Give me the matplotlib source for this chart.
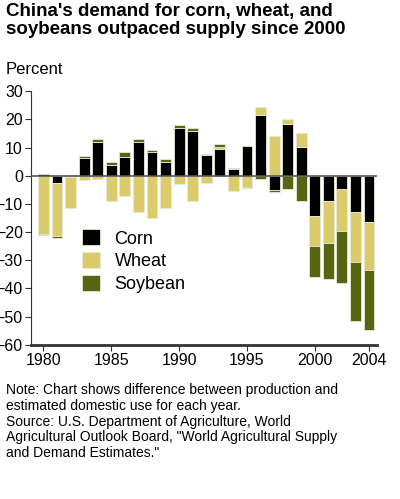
import numpy as np
import matplotlib.pyplot as plt

plt.rcParams['font.family'] = ['Liberation Sans', 'DejaVu Sans']

years = list(range(1980, 2005))
corn = [0.8, -2.5, -0.5, 6.5, 12, 4, 6.8, 12, 8.3, 4.8, 16.9, 15.8, 7.5, 9.6,
        2.5, 10.5, 21.5, -5.2, 18.5, 10.4, -14.1, -8.9, -4.6, -12.9, -16.4]
wheat = [-20.5, -19, -11, -1.5, -1, -9, -7, -13, -15, -11.5, -3, -9, -2.5, 0.7,
         -5.5, -4, 3, 14.2, 1.8, 4.9, -10.7, -14.9, -14.9, -17.8, -16.9]
soybean = [-0.4, -0.5, 0.3, 0.7, 1, 1, 1.7, 1.2, 1, 1, 1.3, 1, 0.3, 1.1,
           0.3, -0.5, -1, -0.7, -4.6, -8.8, -11.2, -12.9, -18.6, -21, -21.5]

series = [("Corn", corn, "#000000"), ("Wheat", wheat, "#dccb6b"),
          ("Soybean", soybean, "#56650f")]

fig = plt.figure(figsize=(4, 4.99), dpi=100)
ax = fig.add_axes([0.078, 0.309, 0.865, 0.508])

pos = np.zeros(len(years))
neg = np.zeros(len(years))
for name, vals, col in series:
    v = np.array(vals, dtype=float)
    bottom = np.where(v >= 0, pos, neg)
    ax.bar(years, v, bottom=bottom, width=0.8, color=col, edgecolor="#e8e8d8",
           linewidth=0.6, label=name)
    pos += np.where(v >= 0, v, 0)
    neg += np.where(v < 0, v, 0)

ax.axhline(0, color="#555555", linewidth=1.2, zorder=3)
ax.set_xlim(1979.1, 2004.6)
ax.set_ylim(-60, 30)
ax.set_yticks(range(-60, 31, 10))
ax.set_xticks([1980, 1985, 1990, 1995, 2000, 2004])
ax.tick_params(labelsize=11.5, length=4, pad=2, color="#333333")
for s in ["top", "right"]:
    ax.spines[s].set_visible(False)
ax.spines["bottom"].set_linewidth(2)
ax.spines["bottom"].set_color("#333333")
ax.spines["left"].set_color("#333333")

ax.legend(loc="lower left", bbox_to_anchor=(0.1, 0.14), frameon=False,
          fontsize=13, handlelength=1, handleheight=1, labelspacing=0.25)

fig.text(0.015, 0.993, "China's demand for corn, wheat, and\nsoybeans outpaced supply since 2000",
         fontsize=13.5, fontweight="bold", va="top", linespacing=1.05)
fig.text(0.015, 0.875, "Percent", fontsize=12, va="top")
fig.text(0.015, 0.232, "Note: Chart shows difference between production and\n"
         "estimated domestic use for each year.\n"
         "Source: U.S. Department of Agriculture, World\n"
         "Agricultural Outlook Board, \"World Agricultural Supply\n"
         "and Demand Estimates.\"", fontsize=10, va="top", linespacing=1.15)

fig.savefig("out.png", dpi=100)
